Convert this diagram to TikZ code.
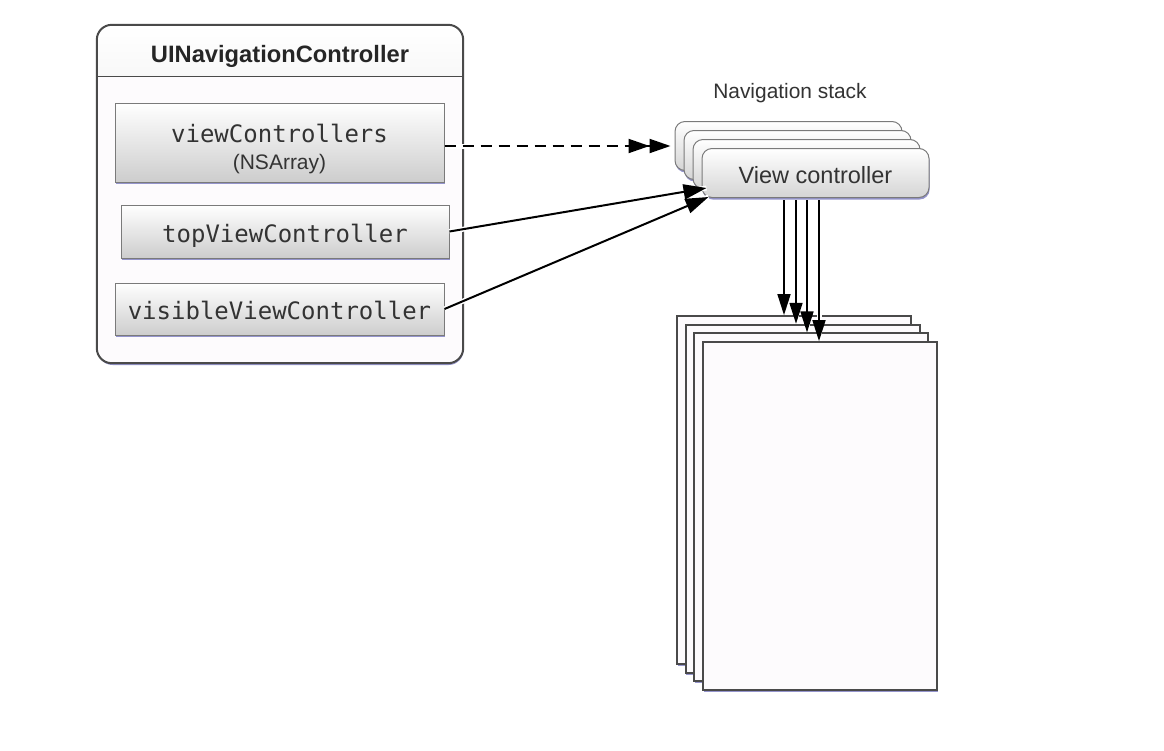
\documentclass[tikz,border=0pt]{standalone}
\usepackage{fontspec}
\setmainfont{Liberation Sans}
\setsansfont{Liberation Sans}
\setmonofont{DejaVu Sans Mono}
\usetikzlibrary{arrows.meta,calc,shadows}
\definecolor{edgegray}{HTML}{7A7A7A}
\definecolor{darkedge}{HTML}{4A4A4A}
\definecolor{fieldgray}{HTML}{CDCDCD}
\definecolor{headgray}{HTML}{D2D2D2}
\definecolor{bodywhite}{HTML}{FDFBFD}
\definecolor{shadowblue}{HTML}{9494CC}
\definecolor{inkgray}{HTML}{333333}
\begin{document}
\begin{tikzpicture}[x=1pt,y=-1pt,
  blueshadow/.style={drop shadow={shadow xshift=0.6pt,shadow yshift=-2pt,fill=shadowblue,opacity=1}},
  field/.style={blueshadow,draw=edgegray,line width=1pt,top color=white,bottom color=fieldgray,inner sep=0pt},
  vcbox/.style={blueshadow,draw=edgegray,line width=1pt,rounded corners=10pt,top color=white,bottom color=fieldgray!85,
    minimum width=227pt,minimum height=49pt,inner sep=0pt},
  page/.style={blueshadow,draw=darkedge,line width=1.8pt,fill=bodywhite,minimum width=234pt,minimum height=348pt,inner sep=0pt},
  mono/.style={font=\fontsize{24}{28}\selectfont\ttfamily,text=inkgray,inner sep=0pt,anchor=base},
  label/.style={text=inkgray,inner sep=0pt,anchor=base},
  solidarrow/.style={line width=2pt,-{Triangle[length=23pt,width=15pt]},preaction={draw=white,line width=5pt,arrows=-}},
  dasharrow/.style={line width=2pt,dash pattern=on 11pt off 7pt,
    -{Triangle[length=21pt,width=14pt]Triangle[length=21pt,width=14pt]},
    preaction={draw=white,line width=5pt,arrows=-,solid}},
  downarrow/.style={line width=1.6pt,-{Triangle[length=21pt,width=13pt]},preaction={draw=white,line width=5pt,arrows=-}}
]
\useasboundingbox[fill=white] (0,0) rectangle (1164,750);

% outer controller box
\node[blueshadow,fill=bodywhite,rounded corners=15pt,minimum width=366pt,minimum height=338pt,inner sep=0pt] (nav) at (280,194) {};
\begin{scope}
  \clip (97,25) rectangle (463,76);
  \shade[top color=white,bottom color=headgray,rounded corners=15pt] (nav.north west) rectangle (nav.south east);
\end{scope}
\draw[darkedge,line width=1pt] (nav.west |- 0,76) -- (nav.east |- 0,76);
\draw[darkedge,line width=2pt,rounded corners=15pt] (nav.north west) rectangle (nav.south east);
\node[label,font=\fontsize{23.7}{28}\selectfont\bfseries,text=black!85] (title) at (280,62) {UINavigationController};

% property fields
\node[field,minimum width=329pt,minimum height=79pt] (vcs) at (279.5,142.5) {};
\node[mono] (vcst) at (279.5,142) {viewControllers};
\node[label,font=\fontsize{21}{24}\selectfont] (vcsa) at (279.5,169) {(NSArray)};
\node[field,minimum width=328pt,minimum height=53pt] (top) at (285,231.5) {};
\node[mono] (topt) at (285,242) {topViewController};
\node[field,minimum width=329pt,minimum height=52pt] (vis) at (279.5,309) {};
\node[mono] (vist) at (279.5,319) {visibleViewController};

% navigation stack
\node[label,font=\fontsize{20.9}{24}\selectfont] (stack) at (790,98) {Navigation stack};

% pages (views)
\node[page] (p1) at (794,490) {};
\node[page] (p2) at (802.67,498.67) {};
\node[page] (p3) at (811.33,507.33) {};
\node[page] (p4) at (820,516) {};

% view controller stack
\node[vcbox] (vcb1) at (788.5,146) {};
\node[vcbox] (vcb2) at (797.5,155) {};
\node[vcbox] (vcb3) at (806.5,164) {};
\node[vcbox] (vc4) at (815.5,173) {};
\node[label,font=\fontsize{23.5}{28}\selectfont] (vct) at (815.5,183) {View controller};

% arrows to views
\coordinate (a1) at (784,200);
\coordinate (a2) at (796,200);
\coordinate (a3) at (807,200);
\coordinate (a4) at (819,200);
\draw[downarrow] (a1) -- (a1 |- p1.north);
\draw[downarrow] (a2) -- (a2 |- p2.north);
\draw[downarrow] (a3) -- (a3 |- p3.north);
\draw[downarrow] (a4) -- (a4 |- p4.north);

% arrows from properties
\draw[dasharrow] (vcs.east |- vcb1.west) -- ($(vcb1.west)+(-4,0)$);
\draw[solidarrow] (top.east) -- ($(vc4.south west)+(5,-10)$);
\draw[solidarrow] (vis.east) -- ($(vc4.south west)+(7,-1)$);
\end{tikzpicture}
\end{document}
